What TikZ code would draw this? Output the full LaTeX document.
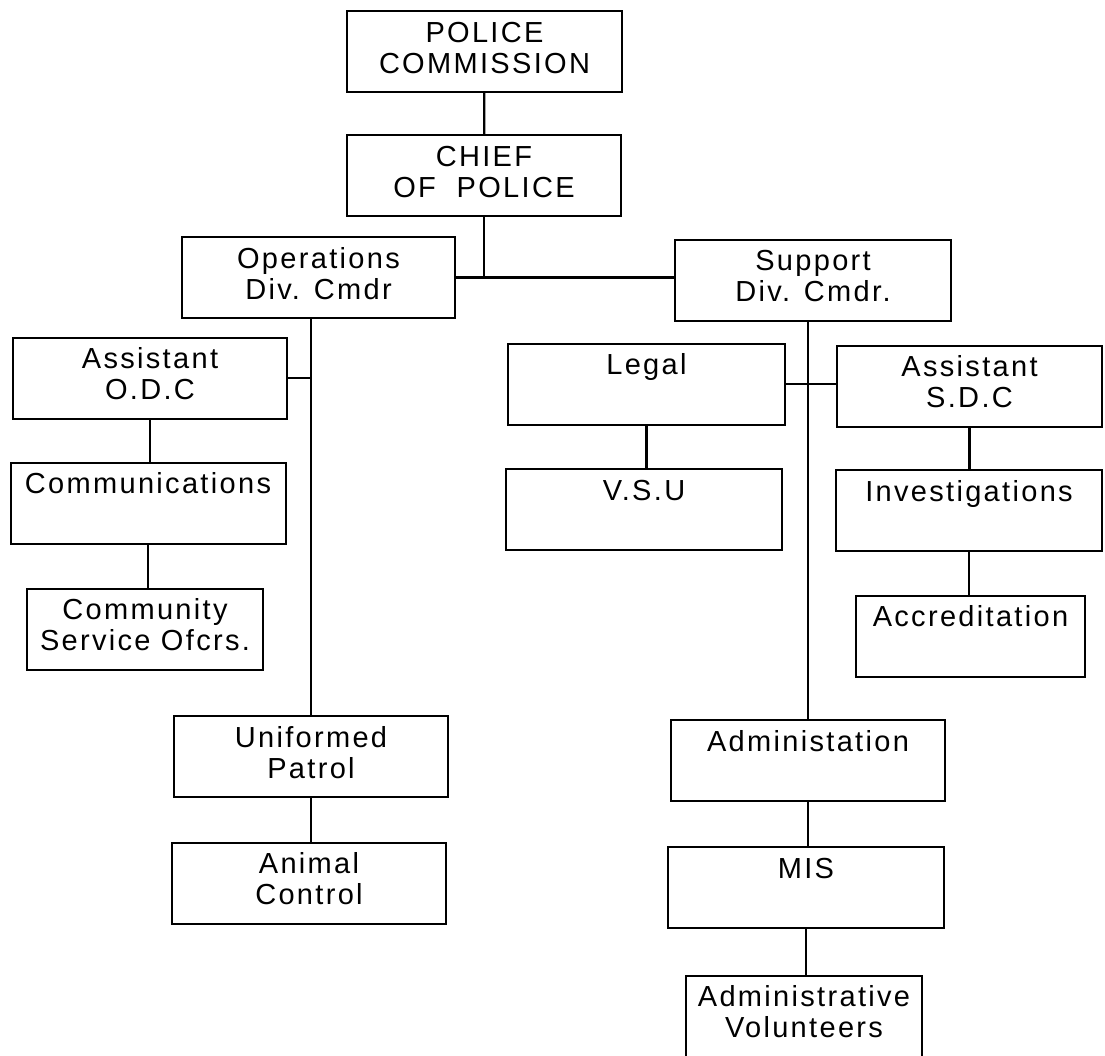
\documentclass[tikz,border=0pt]{standalone}
\usepackage{fontspec}
\setmainfont{Liberation Sans}[LetterSpace=8]
\begin{document}
\begin{tikzpicture}[x=1pt,y=-1pt,
  unit/.style={draw, line width=2pt, inner sep=0pt, minimum height=81pt,
    align=center, font=\fontsize{29}{31}\selectfont},
  link/.style={line width=2.2pt}]
\useasboundingbox (0,0) rectangle (1105,1055);
\fill[white] (0,0) rectangle (1105,1055);

% command staff
\node[unit, minimum width=275pt] (commission) at (484.5,51.5) {\strut POLICE\\\strut COMMISSION};
\node[unit, minimum width=274pt] (chief) at (484,175.5) {\strut CHIEF\\\strut OF\ \ POLICE};
\node[unit, minimum width=273pt] (ops) at (318.5,277.5) {\strut Operations\\\strut Div. Cmdr};
\node[unit, minimum width=276pt] (support) at (813,280) {\strut Support\\\strut Div. Cmdr.};

% operations division
\node[unit, minimum width=274pt] (aodc) at (150,378) {\strut Assistant\\\strut O.D.C};
\node[unit, minimum width=275pt] (comm) at (148,503) {\strut Communications\\\strut};
\node[unit, minimum width=236pt] (community) at (145,629) {\strut Community\\\strut Service Ofcrs.};
\node[unit, minimum width=274pt] (uniformed) at (311,756.5) {\strut Uniformed\\\strut Patrol};
\node[unit, minimum width=274pt] (animal) at (309,883) {\strut Animal\\\strut Control};

% support division
\node[unit, minimum width=277pt] (legal) at (646.5,384) {\strut Legal\\\strut};
\node[unit, minimum width=276pt] (vsu) at (644,509.5) {\strut V.S.U\\\strut};
\node[unit, minimum width=265pt] (sdc) at (969.5,386) {\strut Assistant\\\strut S.D.C};
\node[unit, minimum width=266pt] (invest) at (969,510.5) {\strut Investigations\\\strut};
\node[unit, minimum width=229pt] (accred) at (970.5,636) {\strut Accreditation\\\strut};
\node[unit, minimum width=274pt] (admin) at (808,760.5) {\strut Administation\\\strut};
\node[unit, minimum width=276pt] (mis) at (806,887.5) {\strut MIS\\\strut};
\node[unit, minimum width=236pt] (volunteers) at (804,1016) {\strut Administrative\\\strut Volunteers};

% reporting lines
\draw[link] (commission) -- (chief);
\draw[link] (chief.south) -- (chief.south |- ops.east);
\draw[link] (ops.east) -- (ops.east -| support.west);

\draw[link] (ops.south -| uniformed.north) -- (uniformed.north);
\draw[link] (aodc.east) -- (aodc.east -| uniformed.north);
\draw[link] (aodc.south) -- (aodc.south |- comm.north);
\draw[link] (comm.south) -- (comm.south |- community.north);
\draw[link] (uniformed.south) -- (uniformed.south |- animal.north);

\draw[link] (support.south -| admin.north) -- (admin.north);
\draw[link] (legal.east) -- (legal.east -| sdc.west);
\draw[link] (legal.south) -- (legal.south |- vsu.north);
\draw[link] (sdc.south) -- (sdc.south |- invest.north);
\draw[link] (invest.south) -- (invest.south |- accred.north);
\draw[link] (admin.south) -- (admin.south |- mis.north);
\draw[link] (mis.south) -- (mis.south |- volunteers.north);
\end{tikzpicture}
\end{document}
